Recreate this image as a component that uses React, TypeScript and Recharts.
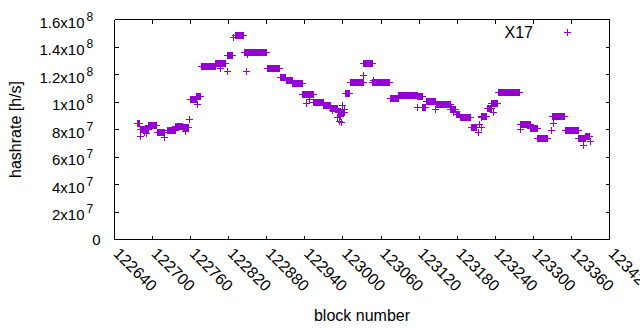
import React from 'react';
import { ScatterChart, Scatter, XAxis, YAxis, Legend, ReferenceLine } from 'recharts';

const xTicks = [122640, 122700, 122760, 122820, 122880, 122940, 123000, 123060, 123120, 123180, 123240, 123300, 123360, 123420];
const yTicks = [0, 2e7, 4e7, 6e7, 8e7, 1e8, 1.2e8, 1.4e8, 1.6e8];
const xDomain = [122640, 123420];
const yDomain = [0, 1.6e8];

// runs of blocks with the same hashrate (x 10^7 h/s)
const runStart = [
  122675, 122680, 122693, 122707, 122722, 122736, 122748, 122759, 122769, 122776,
  122799, 122818, 122830, 122844, 122881, 122900, 122910, 122920, 122936, 122943,
  122953, 122969, 122980, 122992, 123003, 123011, 123032, 123046, 123074, 123087,
  123117, 123125, 123131, 123146, 123169, 123178, 123184, 123201, 123217, 123227,
  123234, 123244, 123279, 123295, 123306, 123330, 123350, 123371, 123382,
];
const runEnd = [
  122680, 122693, 122707, 122719, 122736, 122748, 122757, 122769, 122776, 122799,
  122815, 122826, 122844, 122880, 122900, 122910, 122920, 122936, 122943, 122953,
  122969, 122980, 122992, 123003, 123011, 123032, 123046, 123074, 123087, 123117,
  123125, 123131, 123146, 123169, 123178, 123184, 123201, 123210, 123227, 123234,
  123244, 123279, 123295, 123306, 123322, 123350, 123371, 123382, 123389,
];
const runValue = [
  8.5, 8.05, 8.3, 7.85, 7.95, 8.25, 8.15, 10.25, 10.47, 12.65,
  12.85, 13.4, 14.87, 13.67, 12.44, 11.8, 11.6, 11.4, 10.6, 10.55,
  10.0, 9.8, 9.55, 9.3, 10.65, 11.45, 12.87, 11.45, 10.3, 10.5,
  10.4, 9.65, 10.09, 9.82, 9.5, 9.1, 8.9, 8.17, 9.0, 9.6,
  9.9, 10.74, 8.4, 8.1, 7.35, 8.95, 7.98, 7.35, 7.5,
];

// single scattered blocks
const outlierBlock = [
  122680, 122686, 122690, 122718, 122751, 122757, 122770, 122806, 122817, 122827,
  122848, 122847, 122941, 122946, 122983, 122990, 122993, 122996, 122997, 122998,
  123001, 123031, 123047, 123117, 123145, 123171, 123174, 123212, 123215, 123217,
  123217, 123236, 123279, 123320, 123328, 123331, 123379, 123390,
];
const outlierValue = [
  7.56, 7.8, 7.75, 7.44, 7.9, 8.78, 9.87, 12.5, 12.25, 14.7,
  13.5, 12.25, 9.9, 10.2, 9.4, 8.9, 8.65, 8.95, 8.55, 9.75,
  9.5, 12.0, 11.6, 9.62, 9.5, 9.62, 9.26, 7.8, 8.4, 8.17,
  8.9, 9.26, 8.05, 7.4, 7.93, 8.5, 6.9, 7.13,
];

const points: { block: number; hashrate: number }[] = [];
runStart.forEach((s, i) => {
  for (let b = s; b < runEnd[i]; b++) points.push({ block: b, hashrate: runValue[i] * 1e7 });
});
outlierBlock.forEach((b, i) => points.push({ block: b, hashrate: outlierValue[i] * 1e7 }));

const COLOR = '#9400d3';
const FONT = '"Liberation Sans", Arial, sans-serif';

const Plus = (props: any) => {
  const { cx, cy } = props;
  if (cx == null || cy == null) return null;
  const x = Math.round(cx);
  const y = Math.round(cy);
  return (
    <path
      d={`M${x - 3},${y + 0.5}H${x + 4}M${x + 0.5},${y - 3}V${y + 4}`}
      stroke={COLOR}
      strokeWidth={1}
      fill="none"
    />
  );
};

const Nothing = () => <g />;

const YTick = ({ x, y, payload }: any) => {
  const v = payload.value;
  if (v === 0) {
    return (
      <text x={x} y={y + 5} textAnchor="end" fontSize={15} fontFamily={FONT} fill="#000">
        0
      </text>
    );
  }
  const exp = Math.floor(Math.log10(v) + 1e-9);
  const mant = Math.round((v / Math.pow(10, exp)) * 10) / 10;
  return (
    <g>
      <text x={x - 16} y={y + 8} textAnchor="end" fontSize={15} fontFamily={FONT} fill="#000">
        {`${mant}x10`}
      </text>
      <text x={x - 14} y={y + 1} textAnchor="start" fontSize={12} fontFamily={FONT} fill="#000">
        {exp}
      </text>
    </g>
  );
};

const XTick = ({ x, y, payload }: any) => (
  <text
    x={x - 2}
    y={y}
    transform={`rotate(45, ${x - 2}, ${y})`}
    textAnchor="start"
    fontSize={16}
    fontFamily={FONT}
    fill="#000"
  >
    {payload.value}
  </text>
);

const LegendBox = () => (
  <svg width={120} height={20}>
    <text x={54} y={16} textAnchor="end" fontSize={16} fontFamily={FONT} fill="#000">
      X17
    </text>
    <path d={`M85,10.5H92M88.5,7V14`} stroke={COLOR} strokeWidth={1} fill="none" />
  </svg>
);

const lineStyle = { stroke: '#000', strokeWidth: 1, shapeRendering: 'crispEdges' };

export default function App() {
  return (
    <div style={{ position: 'absolute', left: 0, top: 0, background: '#fff' }}>
      <ScatterChart width={640} height={330} margin={{ top: 18.5, right: 29.5, bottom: 0, left: 0 }}>
        <XAxis
          dataKey="block"
          type="number"
          domain={xDomain}
          allowDataOverflow
          ticks={xTicks}
          height={90.5}
          axisLine={lineStyle}
          tickLine={lineStyle}
          tickSize={-4}
          tickMargin={19}
          tick={<XTick />}
          interval={0}
          label={{
            content: ({ viewBox }: any) => (
              <text
                x={viewBox.x + viewBox.width / 2}
                y={321}
                textAnchor="middle"
                fontSize={16}
                fontFamily={FONT}
                fill="#000"
              >
                block number
              </text>
            ),
          }}
        />
        <XAxis
          xAxisId="top"
          orientation="top"
          dataKey="block"
          type="number"
          domain={xDomain}
          allowDataOverflow
          ticks={xTicks}
          height={1}
          axisLine={lineStyle}
          tickLine={lineStyle}
          tickSize={-4}
          tick={<Nothing />}
          interval={0}
        />
        <YAxis
          dataKey="hashrate"
          type="number"
          domain={yDomain}
          allowDataOverflow
          ticks={yTicks}
          width={114.5}
          axisLine={lineStyle}
          tickLine={lineStyle}
          tickSize={-4}
          tickMargin={18}
          tick={<YTick />}
          interval={0}
          label={{
            content: ({ viewBox }: any) => {
              const cx = 21;
              const cy = viewBox.y + viewBox.height / 2;
              return (
                <text
                  x={cx}
                  y={cy}
                  transform={`rotate(-90, ${cx}, ${cy})`}
                  textAnchor="middle"
                  fontSize={16}
                  fontFamily={FONT}
                  fill="#000"
                >
                  hashrate [h/s]
                </text>
              );
            },
          }}
        />
        <YAxis
          yAxisId="right"
          orientation="right"
          dataKey="hashrate"
          type="number"
          domain={yDomain}
          allowDataOverflow
          ticks={yTicks}
          width={1}
          axisLine={lineStyle}
          tickLine={lineStyle}
          tickSize={-4}
          tick={<Nothing />}
          interval={0}
        />
        <ReferenceLine y={yDomain[1]} stroke="#000" strokeWidth={1} shapeRendering="crispEdges" ifOverflow="visible" />
        <ReferenceLine x={xDomain[1]} stroke="#000" strokeWidth={1} shapeRendering="crispEdges" ifOverflow="visible" />
        <Legend
          layout="horizontal"
          align="center"
          verticalAlign="middle"
          content={<LegendBox />}
          wrapperStyle={{ top: 22, left: 479, width: 120, height: 20 }}
        />
        {/* hidden copy that ties the mirrored top/right axes to the data */}
        <Scatter
          xAxisId="top"
          yAxisId="right"
          data={points}
          dataKey="hashrate"
          shape={<Nothing />}
          legendType="none"
          isAnimationActive={false}
        />
        <Scatter
          name="X17"
          data={points}
          dataKey="hashrate"
          fill={COLOR}
          shape={<Plus />}
          isAnimationActive={false}
        />
      </ScatterChart>
    </div>
  );
}
